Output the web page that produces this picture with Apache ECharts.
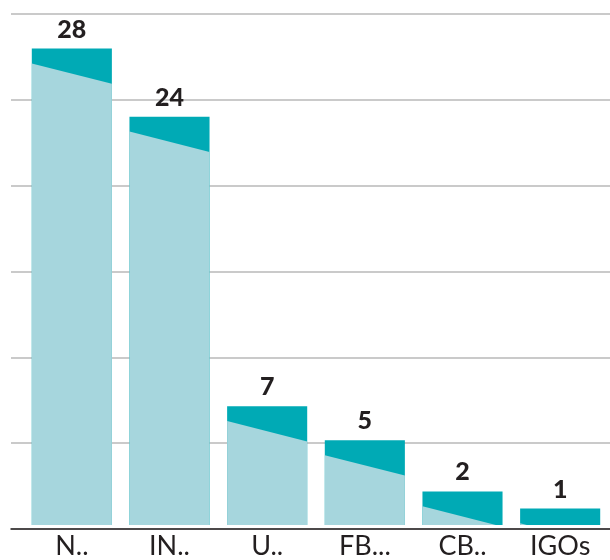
<!DOCTYPE html>
<html>
<head>
<meta charset="utf-8">
<script src="https://cdn.jsdelivr.net/npm/echarts@6/dist/echarts.min.js"></script>
<style>
html, body { margin: 0; padding: 0; background: #fff; }
#chart { width: 610px; height: 560px; }
</style>
</head>
<body>
<div id="chart"></div>
<script>
// data
var categories = ['N..', 'IN..', 'U..', 'FB...', 'CB..', 'IGOs'];
var values = [28, 24, 7, 5, 2, 1];
var yMin = 0, yMax = 30, yStep = 5;

var darkColor = '#00aab5';
var lightColor = '#a6d6dd';
var inkColor = '#231f20';

var chart = echarts.init(document.getElementById('chart'));

function renderBar(params, api) {
    var i = api.value(0);
    var v = api.value(1);
    var top = api.coord([i, v]);
    var base = api.coord([i, 0])[1];
    var bw = api.size([1, 0])[0] * 0.82;
    var x0 = top[0] - bw / 2;
    var x1 = top[0] + bw / 2;
    // sloped edge of the dark cap (in value units below the top)
    var vL = v - 0.9;
    var vR = v - 2.1;
    var yL = api.coord([i, vL])[1];
    var pts;
    if (vR >= 0) {
        pts = [[x0, yL], [x1, api.coord([i, vR])[1]], [x1, base], [x0, base]];
    } else {
        var t = vL / (vL - vR);
        pts = [[x0, yL], [x0 + t * bw, base], [x0, base]];
    }
    return {
        type: 'group',
        children: [
            {
                type: 'rect',
                shape: { x: x0, y: top[1] + 0.5, width: bw, height: base - top[1] - 0.5 },
                style: { fill: darkColor }
            },
            {
                type: 'polygon',
                shape: { points: pts },
                style: { fill: lightColor }
            },
            {
                type: 'text',
                x: top[0],
                y: top[1] - 6,
                style: {
                    text: String(v),
                    fill: inkColor,
                    font: '900 25px Lato, "Open Sans", sans-serif',
                    align: 'center',
                    verticalAlign: 'bottom'
                }
            }
        ]
    };
}

var option = {
    animation: false,
    grid: [
        { left: 11, right: 0, top: 14, bottom: 31 },
        { left: 23, right: 1, top: 14, bottom: 31 }
    ],
    xAxis: [
        {
            gridIndex: 0,
            type: 'value',
            min: 0,
            max: 1,
            axisLine: { show: true, lineStyle: { color: inkColor, width: 1.5 } },
            axisTick: { show: false },
            axisLabel: { show: false },
            splitLine: { show: false }
        },
        {
            gridIndex: 1,
            type: 'category',
            data: categories,
            axisLine: { show: false },
            axisTick: { show: false },
            axisLabel: {
                color: inkColor,
                fontSize: 27,
                fontWeight: 'normal',
                fontFamily: 'Lato, "Open Sans", sans-serif',
                margin: 8
            }
        }
    ],
    yAxis: [
        {
            gridIndex: 0,
            type: 'value',
            min: yMin,
            max: yMax,
            interval: yStep,
            axisLine: { show: false },
            axisTick: { show: false },
            axisLabel: { show: false },
            splitLine: { lineStyle: { color: '#b8b8b8', width: 1.5 } }
        },
        {
            gridIndex: 1,
            type: 'value',
            min: yMin,
            max: yMax,
            interval: yStep,
            show: false
        }
    ],
    series: [
        {
            type: 'custom',
            xAxisIndex: 1,
            yAxisIndex: 1,
            renderItem: renderBar,
            encode: { x: 0, y: 1 },
            data: values.map(function (v, i) { return [i, v]; }),
            z: 3
        }
    ]
};

chart.setOption(option);
</script>
</body>
</html>
